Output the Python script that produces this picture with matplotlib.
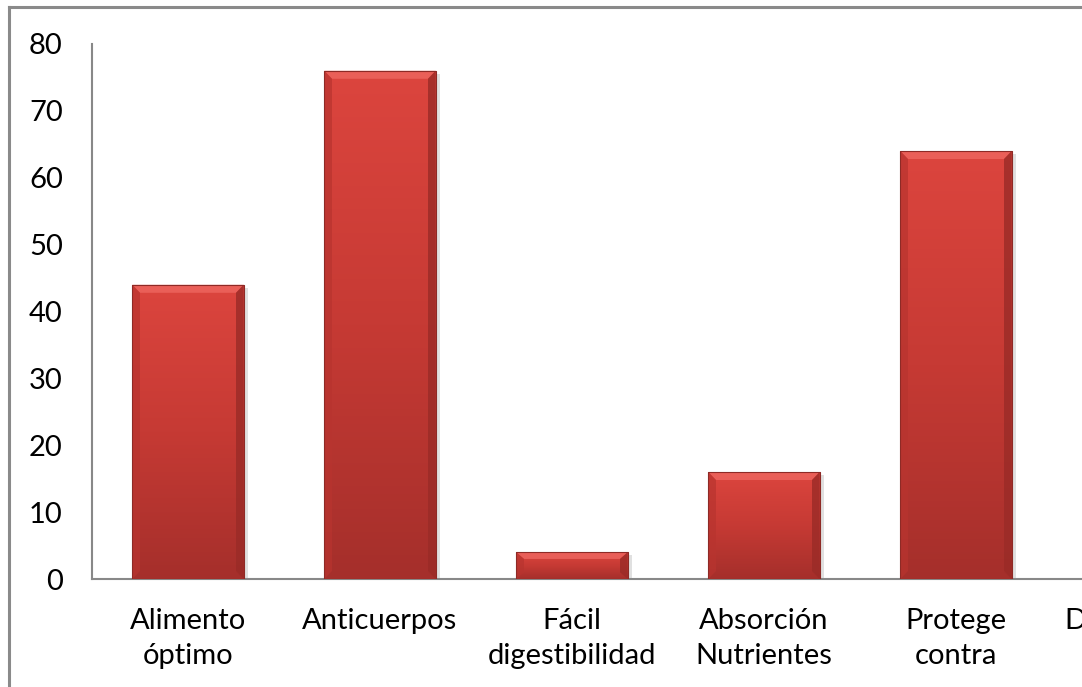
import numpy as np
from matplotlib import pyplot as plt
from matplotlib import colors

categorias = ['Alimento\nóptimo', 'Anticuerpos', 'Fácil\ndigestibilidad',
              'Absorción\nNutrientes', 'Protege\ncontra', 'Disminuye el\nriesgo']
valores = [44, 76, 4, 16, 64, 0]
yticks = [0, 10, 20, 30, 40, 50, 60, 70, 80]

W, H = 1082, 687
DPI = 100
FS = 21

plt.rcParams['font.family'] = ['Lato', 'DejaVu Sans']

fig = plt.figure(figsize=(W/DPI, H/DPI), dpi=DPI)
# the plot area runs past the right edge of the picture, like the cropped original
ax = fig.add_axes([92/W, (H-579)/H, 1152/W, 535/H])

bars = ax.bar(range(len(categorias)), valores, width=0.58, color='#c0392f', zorder=2)

# vertical gradient + bevel for each bar
grad = np.linspace(0, 1, 256).reshape(-1, 1)
cmap = colors.LinearSegmentedColormap.from_list('rojo', ['#a52f2b', '#c63a34', '#dc453e'])
for b in bars:
    if b.get_height() <= 0:
        continue
    x0, y0 = b.get_x(), b.get_y()
    w, h = b.get_width(), b.get_height()
    # soft shadow
    ax.bar(x0 + w/2 + 0.01, h, width=w + 0.025, bottom=-0.45, color='#999999',
           alpha=0.3, zorder=1)
    im = ax.imshow(grad, extent=[x0, x0+w, y0, y0+h], origin='lower', cmap=cmap,
                   aspect='auto', zorder=3)
    im.set_clip_path(b)
    # bevel: light band on top, darker sides
    bev = min(1.2, h*0.25)
    ax.fill([x0, x0+w, x0+w-0.04, x0+0.04], [y0+h, y0+h, y0+h-bev, y0+h-bev],
            color='#ee6660', alpha=0.8, lw=0, zorder=4)
    ax.fill([x0, x0+0.04, x0+0.04, x0], [y0, y0+bev, y0+h-bev, y0+h],
            color='#b8342f', alpha=0.7, lw=0, zorder=4)
    ax.fill([x0+w, x0+w-0.04, x0+w-0.04, x0+w], [y0, y0+bev, y0+h-bev, y0+h],
            color='#9a2b27', alpha=0.8, lw=0, zorder=4)
    ax.plot([x0, x0+w, x0+w, x0, x0], [y0, y0, y0+h, y0+h, y0],
            color='#8e2a26', lw=0.8, zorder=5)

ax.set_xlim(-0.5, len(categorias) - 0.5)
ax.set_ylim(0, 80)
ax.set_yticks(yticks)
ax.set_xticks(range(len(categorias)))
ax.set_xticklabels(categorias, fontsize=FS, linespacing=1.4)
ax.tick_params(axis='y', labelsize=FS, length=0, pad=21)
ax.tick_params(axis='x', length=0, pad=21)

for s in ['top', 'right']:
    ax.spines[s].set_visible(False)
ax.spines['left'].set_color('#888888')
ax.spines['bottom'].set_color('#888888')
ax.spines['left'].set_linewidth(1.5)
ax.spines['bottom'].set_linewidth(1.5)

# outer chart border (only left and top visible in the crop)
fig.add_artist(plt.Line2D([9/W, 9/W], [0, 1 - 7/H], transform=fig.transFigure,
                          color='#8a8a8a', lw=2.2))
fig.add_artist(plt.Line2D([9/W, 1], [1 - 7/H, 1 - 7/H], transform=fig.transFigure,
                          color='#8a8a8a', lw=2.2))

fig.savefig('out.png', dpi=DPI)
